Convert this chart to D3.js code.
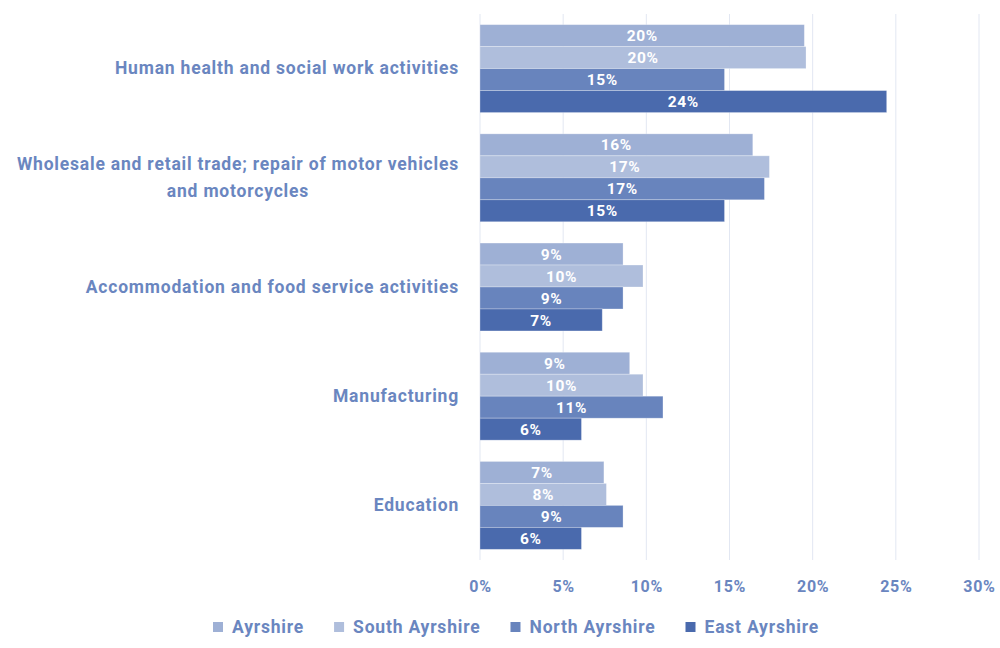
<!DOCTYPE html>
<html>
<head>
<meta charset="utf-8">
<script src="https://cdn.jsdelivr.net/npm/d3@7"></script>
<style>
  html, body { margin: 0; padding: 0; background: #fff; }
  svg { display: block; font-family: Roboto, "Noto Sans", sans-serif; }
</style>
</head>
<body>
<svg id="chart" width="1000" height="648"></svg>
<script>
// Share of employment by industry, Ayrshire areas
const categories = [
  ["Human health and social work activities"],
  ["Wholesale and retail trade; repair of motor vehicles", "and motorcycles"],
  ["Accommodation and food service activities"],
  ["Manufacturing"],
  ["Education"]
];
const seriesNames = ["Ayrshire", "South Ayrshire", "North Ayrshire", "East Ayrshire"];
const ayrshire      = [0.195, 0.164, 0.086, 0.090, 0.0745];
const southAyrshire = [0.196, 0.174, 0.098, 0.098, 0.076];
const northAyrshire = [0.147, 0.171, 0.086, 0.110, 0.086];
const eastAyrshire  = [0.2445, 0.147, 0.0735, 0.061, 0.061];
const tickValues = [0, 0.05, 0.10, 0.15, 0.20, 0.25, 0.30];

const seriesValues = [ayrshire, southAyrshire, northAyrshire, eastAyrshire];
const colors = ["#9eb0d5", "#afbedc", "#6884bd", "#4a6aad"];
const textColor = "#6a86c0";

const svg = d3.select("#chart");
const margin = { left: 480, right: 21, top: 14, bottom: 88 };
const W = 1000, H = 648;

const x = d3.scaleLinear().domain([0, 0.30]).range([margin.left, W - margin.right]);
const y = d3.scaleBand().domain(d3.range(categories.length))
  .range([margin.top, H - margin.bottom]).paddingInner(0.195).paddingOuter(0.0975);
const y1 = d3.scaleBand().domain(d3.range(seriesNames.length)).range([0, y.bandwidth()]);

// gridlines
svg.append("g")
  .selectAll("line").data(tickValues).join("line")
  .attr("x1", d => x(d)).attr("x2", d => x(d))
  .attr("y1", margin.top).attr("y2", H - margin.bottom)
  .attr("stroke", "#e2e7f2").attr("stroke-width", 1);

// x axis tick labels
const xAxis = d3.axisBottom(x).tickValues(tickValues).tickFormat(d3.format(".0%")).tickSize(0).tickPadding(0);
const axisG = svg.append("g").attr("transform", `translate(0,${H - margin.bottom + 20})`).call(xAxis);
axisG.select(".domain").remove();
axisG.selectAll("text")
  .attr("fill", textColor).attr("font-size", 16).attr("font-weight", 700)
  .attr("letter-spacing", "0.7px")
  .attr("font-family", "Roboto, sans-serif").attr("dy", "0.72em");

// bars
const groups = svg.append("g").selectAll("g").data(categories).join("g")
  .attr("transform", (d, i) => `translate(0,${y(i)})`);

groups.each(function(cat, ci) {
  const g = d3.select(this);
  seriesValues.forEach((vals, si) => {
    const v = vals[ci];
    g.append("rect")
      .attr("x", x(0)).attr("y", y1(si))
      .attr("width", x(v) - x(0)).attr("height", y1.bandwidth())
      .attr("fill", colors[si])
      .attr("stroke", "#fff").attr("stroke-opacity", 0.35).attr("stroke-width", 0.8);
    g.append("text")
      .attr("x", (x(0) + x(v)) / 2).attr("y", y1(si) + y1.bandwidth() / 2)
      .attr("text-anchor", "middle").attr("dy", "0.36em")
      .attr("fill", "#fff").attr("font-size", 15.5).attr("font-weight", 700)
      .attr("letter-spacing", "0.6px")
      .text(d3.format(".0%")(v));
  });
});

// category labels, right aligned block with centred lines
const labelRight = 459;
groups.each(function(lines, ci) {
  const g = d3.select(this);
  const t = g.append("text")
    .attr("fill", textColor).attr("font-size", 17.5).attr("font-weight", 700)
    .attr("letter-spacing", "0.8px")
    .attr("text-anchor", "middle");
  const lh = 27;
  const startY = y.bandwidth() / 2 - (lines.length - 1) * lh / 2;
  lines.forEach((line, li) => {
    t.append("tspan").attr("y", startY + li * lh).attr("dy", "0.33em").text(line);
  });
  let maxW = 0;
  t.selectAll("tspan").each(function() { maxW = Math.max(maxW, this.getComputedTextLength()); });
  t.selectAll("tspan").attr("x", labelRight - maxW / 2);
});

// legend
const legendY = 627;
const legend = svg.append("g");
const items = [];
seriesNames.forEach((name, i) => {
  const item = legend.append("g");
  item.append("rect").attr("x", 0).attr("y", legendY - 5).attr("width", 10).attr("height", 10).attr("fill", colors[i]);
  const tx = item.append("text").attr("x", 19).attr("y", legendY).attr("dy", "0.36em")
    .attr("fill", textColor).attr("font-size", 17.5).attr("font-weight", 700)
    .attr("letter-spacing", "0.8px").text(name);
  items.push({ item, w: 19 + tx.node().getComputedTextLength() });
});
const gap = 30;
let lx = 213;
items.forEach(d => {
  d.item.attr("transform", `translate(${lx},0)`);
  lx += d.w + gap;
});
</script>
</body>
</html>
